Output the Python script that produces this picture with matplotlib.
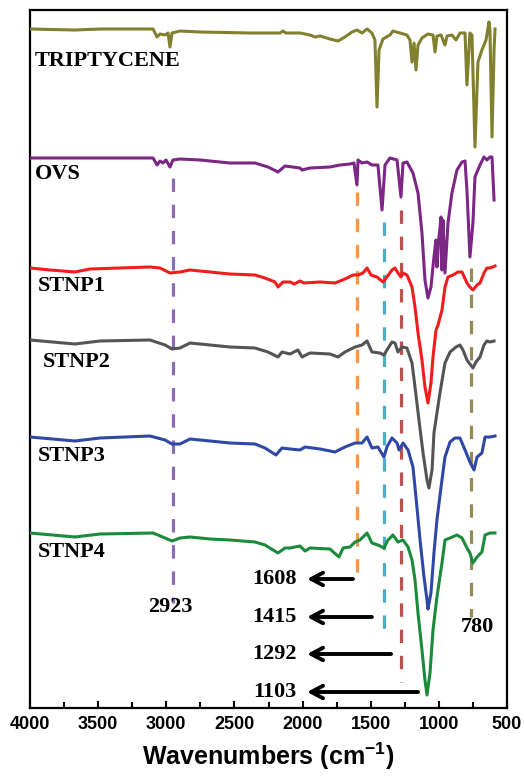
import matplotlib
matplotlib.use("Agg")
import matplotlib.pyplot as plt
from matplotlib.ticker import MultipleLocator

# wavenumbers (cm-1) and stacked transmittance (a.u., offsets included)
trip_wn = [4000, 3670, 3486, 3120, 3097, 3068, 3046, 3009, 2987, 2973, 2958, 2899, 2753, 2386,
           2166, 2144, 2122, 2019, 1946, 1909, 1872, 1799, 1740, 1689, 1637, 1601, 1564, 1527,
           1491, 1469, 1454, 1439, 1410, 1359, 1337, 1285, 1234, 1212, 1197, 1182, 1168, 1153,
           1124, 1080, 1043, 1028, 1014, 984, 955, 940, 904, 874, 845, 808, 794, 772, 757, 735,
           713, 684, 654, 632, 625, 610, 595, 588]
trip_t = [679, 678, 679, 679, 679, 671, 674, 673, 675, 661, 675, 677, 676, 675,
          675, 677, 675, 675, 673, 671, 672, 669, 667, 671, 676, 678, 675, 679,
          675, 668, 601, 658, 669, 673, 677, 675, 673, 668, 646, 665, 638, 663,
          670, 674, 673, 656, 672, 673, 663, 672, 673, 668, 675, 675, 623, 675, 673, 561,
          646, 658, 668, 686, 678, 571, 658, 679]

ovs_wn = [4000, 3486, 3097, 3068, 3046, 3024, 3002, 2973, 2951, 2899, 2753, 2533, 2349, 2254,
          2180, 2129, 2019, 2004, 1946, 1799, 1725, 1652, 1623, 1601, 1593, 1564, 1527, 1491,
          1447, 1417, 1395, 1359, 1307, 1278, 1263, 1234, 1190, 1153, 1124, 1102, 1080, 1058,
          1036, 1021, 1014, 999, 984, 977, 970, 955, 933, 904, 867, 830, 808, 794, 772, 750,
          735, 720, 698, 669, 647, 625, 610, 595]
ovs_t = [550, 550, 550, 543, 547, 545, 548, 541, 548, 549, 548, 545, 545, 541,
         536, 542, 540, 538, 540, 541, 543, 544, 545, 523, 548, 545, 546, 543,
         543, 498, 543, 550, 548, 511, 545, 546, 535, 515, 475, 428, 410, 421,
         451, 468, 441, 471, 491, 438, 488, 435, 485, 515, 538, 546, 547, 518, 451, 485,
         531, 536, 543, 551, 548, 551, 551, 508]

stnp1_wn = [4000, 3853, 3670, 3560, 3340, 3120, 3046, 2973, 2899, 2826, 2679, 2533, 2349, 2276,
            2202, 2180, 2144, 2092, 2060, 2019, 1990, 1872, 1762, 1689, 1630, 1593, 1557, 1527,
            1498, 1454, 1410, 1381, 1344, 1322, 1300, 1278, 1263, 1234, 1197, 1175, 1153, 1124,
            1102, 1080, 1058, 1043, 1021, 1006, 977, 955, 933, 896, 860, 830, 794, 772, 750,
            720, 698, 669, 647, 625, 588]
stnp1_t = [440, 438, 436, 439, 440, 441, 440, 435, 436, 438, 436, 434, 433, 430,
           426, 421, 426, 426, 424, 427, 425, 426, 425, 429, 433, 433, 435, 440,
           433, 431, 426, 431, 438, 440, 435, 431, 435, 433, 421, 401, 375, 348,
           321, 305, 325, 351, 378, 383, 398, 421, 431, 433, 436, 436, 425, 421, 418,
           423, 425, 435, 440, 440, 442]

stnp2_wn = [4000, 3670, 3486, 3120, 3009, 2958, 2899, 2826, 2679, 2533, 2349, 2254, 2180, 2151,
            2092, 2034, 2004, 1946, 1799, 1740, 1689, 1615, 1564, 1527, 1491, 1432, 1403, 1381,
            1344, 1322, 1300, 1270, 1234, 1197, 1175, 1146, 1116, 1087, 1073, 1050, 1036, 1014,
            992, 955, 918, 874, 845, 823, 794, 750, 728, 698, 669, 647, 625, 595]
stnp2_t = [368, 364, 367, 368, 363, 359, 360, 365, 363, 361, 360, 356, 351, 356,
           354, 358, 351, 355, 354, 351, 356, 361, 363, 367, 356, 355, 353, 358,
           366, 365, 356, 361, 360, 345, 321, 288, 255, 228, 220, 238, 275, 295,
           315, 345, 356, 361, 363, 358, 348, 340, 346, 351, 363, 367, 366, 367]

stnp3_wn = [4000, 3670, 3486, 3120, 3009, 2958, 2899, 2826, 2679, 2533, 2349, 2276, 2195, 2151,
            2092, 2019, 1982, 1872, 1762, 1689, 1615, 1564, 1527, 1491, 1447, 1403, 1381, 1344,
            1307, 1292, 1263, 1226, 1190, 1168, 1138, 1109, 1087, 1080, 1058, 1036, 1014, 984,
            955, 918, 882, 845, 808, 772, 742, 720, 684, 661, 625, 588]
stnp3_t = [271, 267, 270, 272, 268, 264, 264, 269, 267, 265, 264, 260, 253, 260,
           259, 258, 261, 259, 256, 261, 265, 265, 271, 260, 261, 251, 261, 270,
           265, 258, 265, 258, 241, 211, 168, 131, 108, 99, 115, 155, 188, 221,
           251, 266, 270, 270, 258, 246, 238, 251, 255, 271, 271, 272]

stnp4_wn = [4000, 3670, 3486, 3097, 3009, 2958, 2899, 2826, 2679, 2533, 2349, 2276, 2180, 2129,
            2092, 2019, 1982, 1946, 1799, 1733, 1703, 1652, 1615, 1579, 1527, 1491, 1447, 1403,
            1373, 1337, 1300, 1263, 1226, 1197, 1175, 1153, 1124, 1102, 1087, 1065, 1043, 1014,
            977, 955, 918, 867, 830, 794, 772, 750, 720, 684, 661, 625, 588]
stnp4_t = [175, 171, 174, 175, 170, 167, 170, 171, 169, 168, 166, 163, 155, 160,
           160, 162, 157, 160, 159, 151, 160, 161, 166, 168, 175, 165, 163, 160,
           168, 173, 166, 168, 161, 148, 128, 95, 58, 28, 13, 35, 78, 111,
           145, 168, 170, 173, 170, 160, 155, 145, 151, 156, 173, 175, 175]

names = ["TRIPTYCENE", "OVS", "STNP1", "STNP2", "STNP3", "STNP4"]
colors = ["#80802e", "#7c2686", "#f21c1c", "#545454", "#2f48a6", "#1b8a3a"]
name_x = [3963, 3963, 3941, 3905, 3941, 3941]
name_y = [647, 534, 422, 346, 252, 156]

# marker lines: position, top, bottom
mark_wn = [2950, 1601, 1403, 1278, 764]
mark_top = [530, 516, 486, 498, 440]
mark_bot = [105, 130, 76, 26, 91]
mark_col = ["#8c6bb5", "#f7964a", "#4bacc6", "#c0504d", "#948a54"]

arrow_lbl = ["1608", "1415", "1292", "1103"]
arrow_y = [129, 91, 54, 16]
arrow_from = [1630, 1491, 1351, 1153]
arrow_tip = 1967

plt.rcParams["mathtext.fontset"] = "custom"
plt.rcParams["mathtext.rm"] = "Liberation Sans:bold"
plt.rcParams["mathtext.it"] = "Liberation Sans:bold"
plt.rcParams["mathtext.bf"] = "Liberation Sans:bold"

fig = plt.figure(figsize=(5.24, 7.79), dpi=100)
ax = fig.add_axes([30 / 524, 1 - 708 / 779, 477 / 524, 698 / 779])

series = [(trip_wn, trip_t), (ovs_wn, ovs_t), (stnp1_wn, stnp1_t),
          (stnp2_wn, stnp2_t), (stnp3_wn, stnp3_t), (stnp4_wn, stnp4_t)]
for (wn, t), c in zip(series, colors):
    ax.plot(wn, t, color=c, lw=2.2, solid_joinstyle="round", zorder=3)

for x, t0, t1, c in zip(mark_wn, mark_top, mark_bot, mark_col):
    ax.plot([x, x], [t0, t1], color=c, lw=2.3, dashes=(4.2, 4.0), zorder=2)

serif = dict(family="Liberation Serif", weight="bold", fontsize=16)
for n, x, y in zip(names, name_x, name_y):
    ax.text(x, y, n, ha="left", va="center", **serif)

ax.text(2973, 101, "2923", ha="center", va="center", **serif)
ax.text(720, 81, "780", ha="center", va="center", **serif)

for lbl, y, x0 in zip(arrow_lbl, arrow_y, arrow_from):
    ax.annotate("", xy=(arrow_tip, y), xytext=(x0, y),
                arrowprops=dict(arrowstyle="->,head_length=0.85,head_width=0.45",
                                color="black", lw=2.8, shrinkA=0, shrinkB=0))
    ax.text(2041, y, lbl, ha="right", va="center", **serif)

ax.set_xlim(4000, 500)
ax.set_ylim(0, 698)
ax.xaxis.set_major_locator(MultipleLocator(500))
ax.xaxis.set_minor_locator(MultipleLocator(250))
ax.tick_params(axis="x", which="both", direction="in", width=1.5, pad=6)
ax.tick_params(axis="x", which="major", length=5)
ax.tick_params(axis="x", which="minor", length=4)
ax.set_yticks([])
for lab in ax.get_xticklabels():
    lab.set_fontfamily("Liberation Sans")
    lab.set_fontweight("bold")
    lab.set_fontsize(13)
for s in ax.spines.values():
    s.set_linewidth(1.6)

ax.set_xlabel("Wavenumbers (cm$^{-1}$)", family="Liberation Sans", weight="bold",
              fontsize=18, labelpad=5)

fig.savefig("out.png", dpi=100)
